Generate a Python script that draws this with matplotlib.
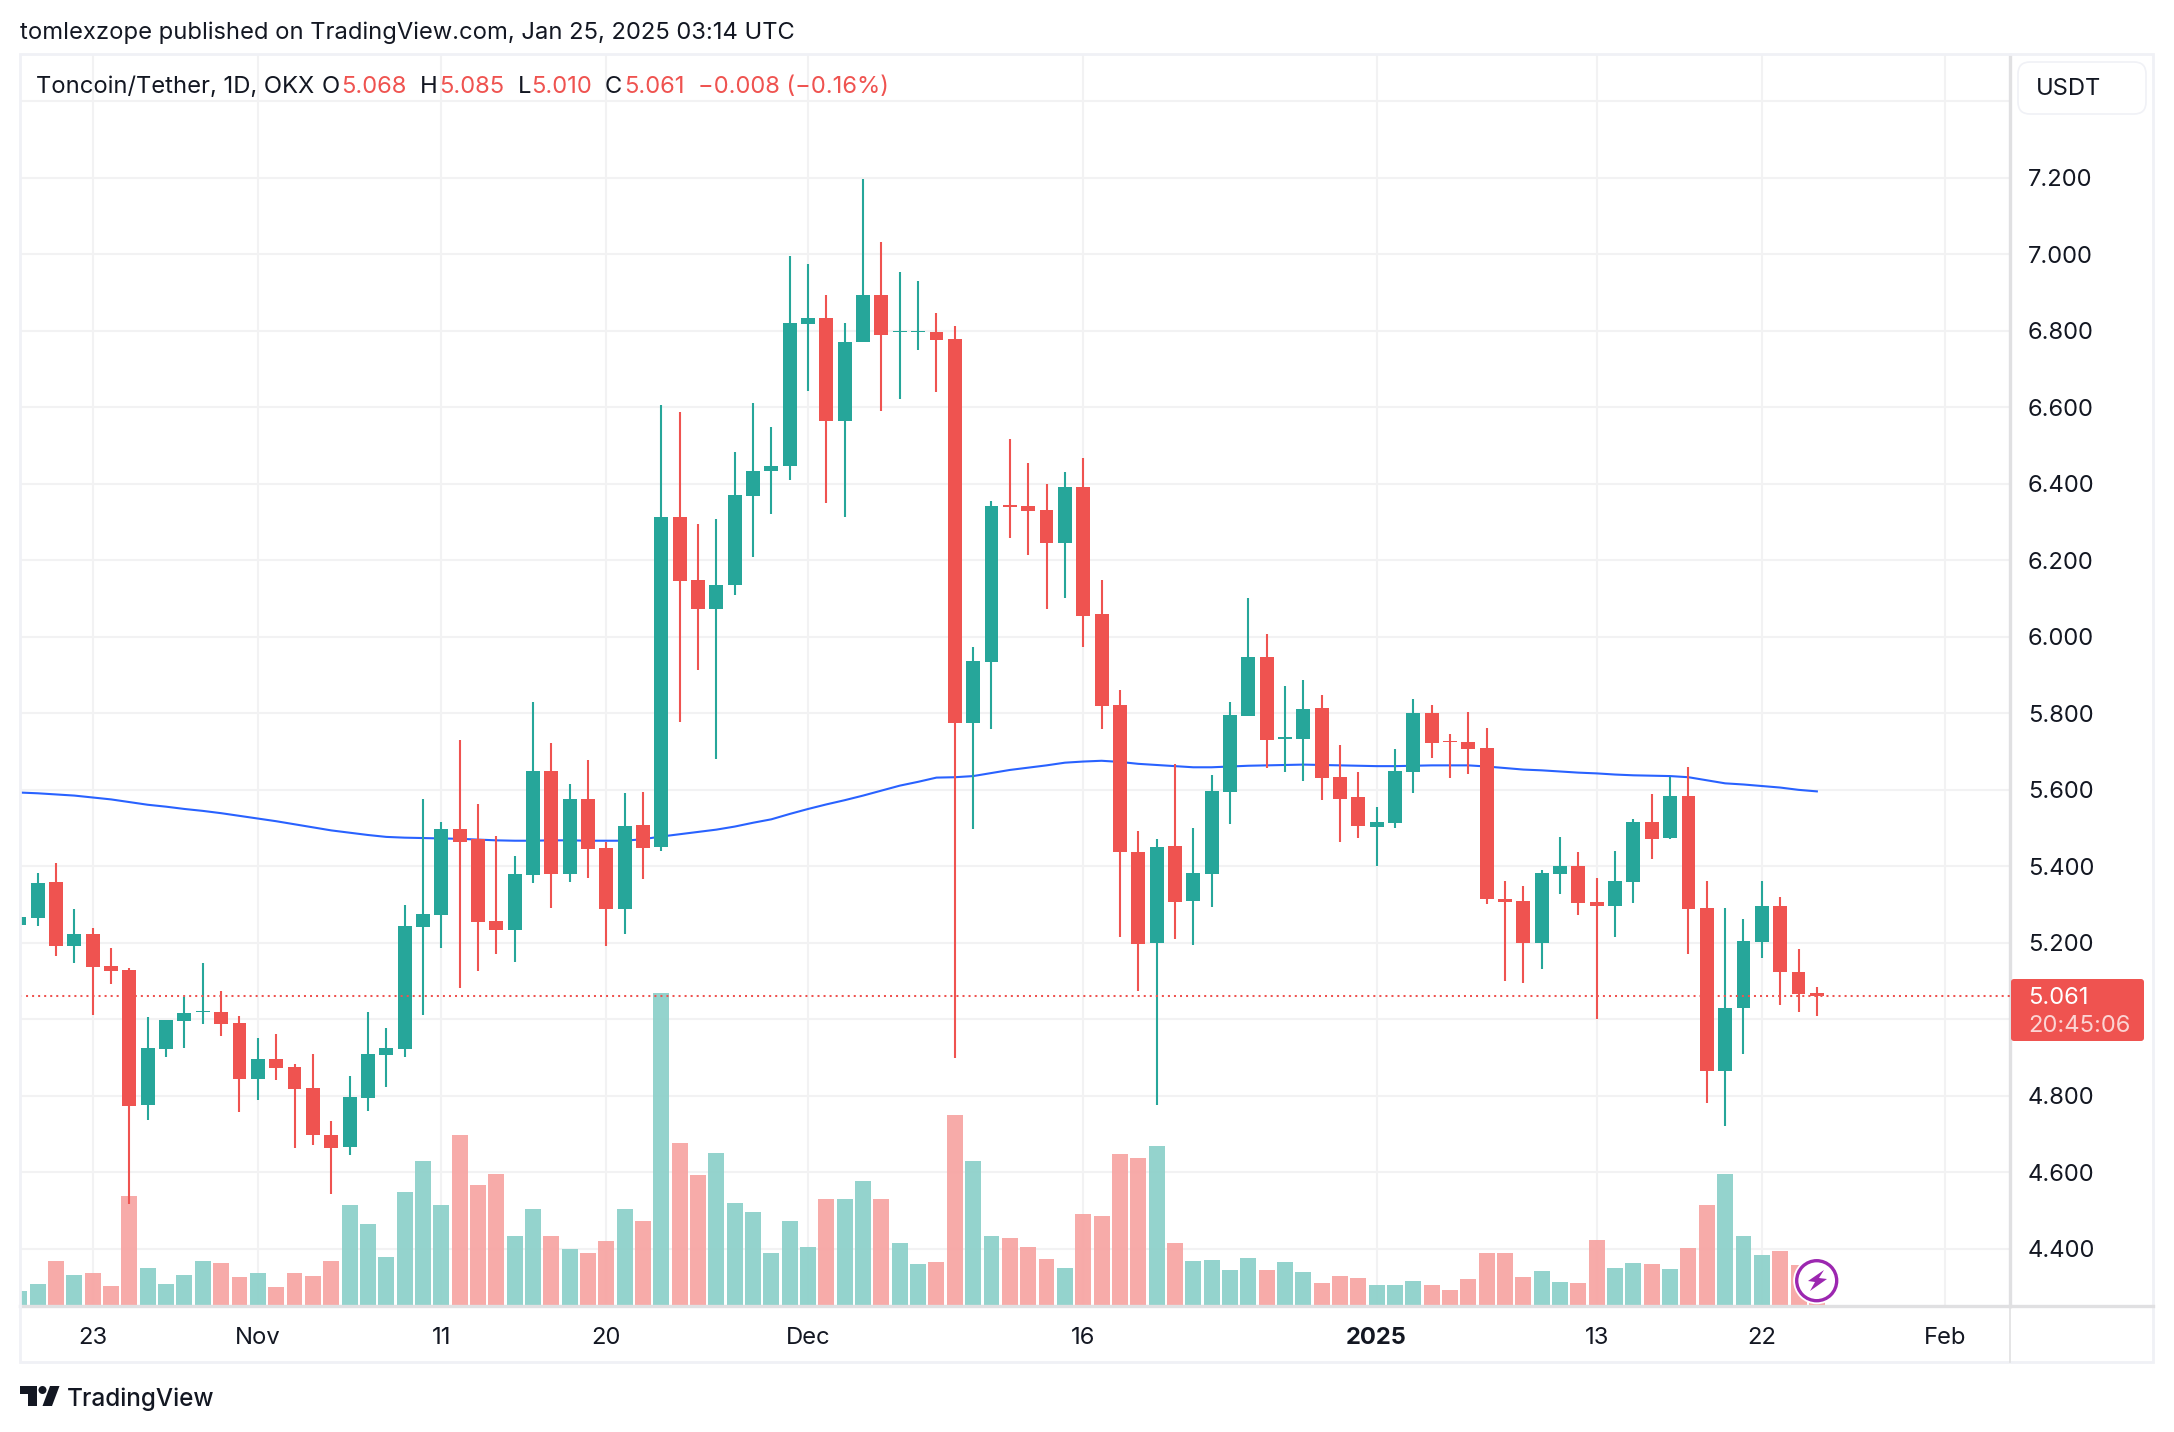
import numpy as np
import matplotlib
matplotlib.use("Agg")
import matplotlib.pyplot as plt
from matplotlib.patches import Rectangle, FancyBboxPatch, Circle, Polygon

plt.rcParams['font.family'] = ['Inter', 'DejaVu Sans']

# daily bars, Oct 19 2024 .. Jan 25 2025
opens = [5.247, 5.265, 5.359, 5.192, 5.223, 5.139, 5.129, 4.776, 4.923, 4.996,
         5.018, 5.019, 4.991, 4.844, 4.897, 4.875, 4.821, 4.698, 4.666, 4.795,
         4.907, 4.923, 5.241, 5.273, 5.498, 5.471, 5.257, 5.234, 5.378, 5.649,
         5.380, 5.576, 5.448, 5.289, 5.508, 5.450, 6.313, 6.149, 6.073, 6.136,
         6.368, 6.434, 6.447, 6.818, 6.834, 6.564, 6.771, 6.894, 6.796, 6.796,
         6.797, 6.779, 5.776, 5.934, 6.345, 6.342, 6.332, 6.246, 6.392, 6.060,
         5.822, 5.437, 5.200, 5.453, 5.309, 5.380, 5.594, 5.793, 5.947, 5.734,
         5.733, 5.814, 5.633, 5.581, 5.503, 5.514, 5.646, 5.801, 5.728, 5.725,
         5.710, 5.315, 5.309, 5.200, 5.380, 5.401, 5.306, 5.296, 5.359, 5.516,
         5.475, 5.584, 5.292, 4.865, 5.029, 5.202, 5.297, 5.124, 5.068]
highs = [5.267, 5.383, 5.409, 5.289, 5.239, 5.187, 5.135, 5.006, 4.998, 5.058,
         5.148, 5.074, 5.009, 4.952, 4.962, 4.883, 4.910, 4.734, 4.852, 5.019,
         4.978, 5.299, 5.576, 5.516, 5.730, 5.563, 5.479, 5.427, 5.829, 5.723,
         5.616, 5.678, 5.464, 5.592, 5.594, 6.606, 6.588, 6.295, 6.308, 6.483,
         6.612, 6.548, 6.996, 6.975, 6.894, 6.821, 7.197, 7.032, 6.954, 6.930,
         6.847, 6.813, 5.973, 6.355, 6.518, 6.455, 6.400, 6.431, 6.468, 6.149,
         5.861, 5.492, 5.472, 5.667, 5.501, 5.639, 5.829, 6.102, 6.008, 5.871,
         5.887, 5.848, 5.717, 5.646, 5.555, 5.707, 5.838, 5.822, 5.746, 5.803,
         5.762, 5.362, 5.349, 5.391, 5.476, 5.437, 5.370, 5.440, 5.524, 5.589,
         5.633, 5.659, 5.362, 5.291, 5.263, 5.362, 5.320, 5.184, 5.085]
lows = [5.247, 5.245, 5.166, 5.148, 5.011, 5.093, 4.518, 4.737, 4.901, 4.926,
        4.988, 4.956, 4.758, 4.789, 4.842, 4.664, 4.672, 4.544, 4.645, 4.760,
        4.823, 4.901, 5.011, 5.187, 5.082, 5.126, 5.171, 5.150, 5.357, 5.292,
        5.359, 5.370, 5.192, 5.223, 5.367, 5.440, 5.777, 5.913, 5.680, 6.110,
        6.209, 6.322, 6.410, 6.643, 6.350, 6.313, 6.771, 6.590, 6.622, 6.750,
        6.640, 4.899, 5.498, 5.760, 6.259, 6.214, 6.073, 6.102, 5.973, 5.759,
        5.215, 5.074, 4.776, 5.210, 5.194, 5.293, 5.511, 5.793, 5.658, 5.646,
        5.623, 5.574, 5.463, 5.475, 5.401, 5.501, 5.592, 5.684, 5.631, 5.642,
        5.302, 5.100, 5.096, 5.132, 5.328, 5.273, 5.001, 5.215, 5.305, 5.420,
        5.472, 5.171, 4.782, 4.722, 4.910, 5.161, 5.037, 5.019, 5.010]
closes = [5.267, 5.357, 5.192, 5.223, 5.137, 5.126, 4.773, 4.926, 4.998, 5.017,
          5.022, 4.988, 4.844, 4.897, 4.873, 4.818, 4.698, 4.664, 4.797, 4.910,
          4.926, 5.244, 5.276, 5.498, 5.463, 5.254, 5.234, 5.380, 5.649, 5.380,
          5.576, 5.446, 5.289, 5.505, 5.448, 6.313, 6.146, 6.073, 6.136, 6.371,
          6.434, 6.447, 6.821, 6.834, 6.564, 6.771, 6.894, 6.789, 6.799, 6.799,
          6.776, 5.776, 5.937, 6.342, 6.339, 6.329, 6.246, 6.392, 6.055, 5.820,
          5.437, 5.197, 5.450, 5.306, 5.383, 5.597, 5.796, 5.947, 5.730, 5.738,
          5.812, 5.631, 5.576, 5.505, 5.516, 5.649, 5.801, 5.723, 5.724, 5.707,
          5.315, 5.306, 5.200, 5.383, 5.401, 5.305, 5.296, 5.362, 5.516, 5.472,
          5.584, 5.289, 4.865, 5.029, 5.205, 5.297, 5.124, 5.066, 5.061]
# no scale on the chart for volume, so relative units
volumes = [14, 21, 44, 30, 32, 19, 109, 37, 21, 30, 44, 42, 28, 32, 18, 32, 29, 44,
           100, 81, 48, 113, 144, 100, 170, 120, 131, 69, 96, 69, 56, 52, 64, 96, 84,
           312, 162, 130, 152, 102, 93, 52, 84, 58, 106, 106, 124, 106, 62, 41, 43,
           190, 144, 69, 67, 58, 46, 37, 91, 89, 151, 147, 159, 62, 44, 45, 35, 47,
           35, 43, 33, 22, 29, 27, 20, 20, 24, 20, 15, 26, 52, 52, 28, 34, 23, 22,
           65, 37, 42, 41, 36, 57, 100, 131, 69, 50, 54, 40, 3]
ma_line = [5.593, 5.591, 5.588, 5.585, 5.580, 5.575, 5.568, 5.561, 5.556, 5.550,
           5.545, 5.539, 5.532, 5.525, 5.518, 5.510, 5.502, 5.494, 5.488, 5.482,
           5.477, 5.475, 5.474, 5.473, 5.472, 5.470, 5.468, 5.467, 5.467, 5.468,
           5.468, 5.467, 5.467, 5.467, 5.471, 5.478, 5.484, 5.490, 5.496, 5.504,
           5.514, 5.523, 5.537, 5.550, 5.562, 5.573, 5.585, 5.598, 5.611, 5.621,
           5.632, 5.633, 5.636, 5.644, 5.652, 5.658, 5.664, 5.671, 5.674, 5.676,
           5.673, 5.668, 5.665, 5.662, 5.659, 5.659, 5.661, 5.663, 5.664, 5.665,
           5.666, 5.665, 5.664, 5.663, 5.662, 5.662, 5.663, 5.664, 5.664, 5.664,
           5.661, 5.657, 5.653, 5.651, 5.648, 5.645, 5.643, 5.640, 5.638, 5.637,
           5.636, 5.633, 5.625, 5.617, 5.614, 5.610, 5.606, 5.600, 5.596]

last_price = 5.061
price_ticks = [4.4, 4.6, 4.8, 5.0, 5.2, 5.4, 5.6, 5.8, 6.0, 6.2, 6.4, 6.6, 6.8, 7.0, 7.2, 7.4]
price_labels = ["4.400", "4.600", "4.800", "", "5.200", "5.400", "5.600", "5.800", "6.000",
                "6.200", "6.400", "6.600", "6.800", "7.000", "7.200", ""]
date_ticks = [4, 13, 23, 32, 43, 58, 74, 86, 95, 105]
date_labels = ["23", "Nov", "11", "20", "Dec", "16", "2025", "13", "22", "Feb"]

UP = "#26A69A"
DOWN = "#EF5350"
UP_VOL = "#92D2CC"
DOWN_VOL = "#F7A9A7"
GRID = "#F2F2F3"
AXIS = "#E0E0E2"
FRAME = "#F0F1F6"
INK = "#131722"
W, H = 2174, 1432
TXT = 17.1

fig = plt.figure(figsize=(W / 100, H / 100), dpi=100, facecolor="white")
rect = [20 / W, 1 - 1306 / H, 1990 / W, 1251 / H]
xlim = (0.033, 108.53)
ylim = (4.2507, 7.521)

opens = np.array(opens)
closes = np.array(closes)
x = np.arange(len(opens))
up = closes >= opens

# grid goes under the volume bars, those are see through
ax_grid = fig.add_axes(rect, zorder=1)
ax_grid.set_xlim(xlim)
ax_grid.set_ylim(ylim)
ax_grid.set_xticks(date_ticks)
ax_grid.set_yticks(price_ticks)
ax_grid.grid(True, color=GRID, lw=1.5)
ax_grid.tick_params(length=0, labelbottom=False, labelleft=False)
for s in ax_grid.spines.values():
    s.set_visible(False)

ax_vol = fig.add_axes(rect, zorder=2)
ax_vol.patch.set_visible(False)
ax_vol.set_xlim(xlim)
ax_vol.set_ylim(-1, 1250)
ax_vol.bar(x, volumes, width=0.87, color=[UP_VOL if u else DOWN_VOL for u in up], alpha=0.98)
ax_vol.axis("off")

ax = fig.add_axes(rect, zorder=3)
ax.patch.set_visible(False)
ax.set_xlim(xlim)
ax.set_ylim(ylim)
colors = [UP if u else DOWN for u in up]
ax.plot(x, ma_line, color="#2962FF", lw=1.5, zorder=1)
ax.vlines(x, lows, highs, colors=colors, lw=1.5, zorder=2)
ax.bar(x, closes - opens, bottom=opens, width=0.76, color=colors, zorder=3)
ax.axhline(last_price, color=DOWN, lw=1.45, ls=(0, (1, 2)), zorder=4)

ax.yaxis.tick_right()
ax.set_yticks(price_ticks)
ax.set_yticklabels(price_labels, fontsize=TXT, color=INK)
ax.set_xticks(date_ticks)
ax.set_xticklabels(date_labels, fontsize=TXT, color=INK)
ax.get_xticklabels()[6].set_fontweight("bold")
ax.tick_params(axis="y", length=0, pad=13)
ax.tick_params(axis="x", length=0, pad=15)
for s in ["top", "left"]:
    ax.spines[s].set_visible(False)
for s in ["bottom", "right"]:
    ax.spines[s].set_color(AXIS)
    ax.spines[s].set_linewidth(2.4)

# overlay in pixels for header, price tag, logo and the rest of the widget chrome
ov = fig.add_axes([0, 0, 1, 1], zorder=4)
ov.patch.set_visible(False)
ov.set_xlim(0, W)
ov.set_ylim(H, 0)
ov.axis("off")

ov.add_patch(Rectangle((20, 54), 2133, 1308, fill=False, ec=FRAME, lw=2))
ov.plot([2010, 2010], [1306, 1362], color=AXIS, lw=1.2)
ov.plot([2010, 2153], [1306, 1306], color=AXIS, lw=2.4)

ov.text(20, 33, "tomlexzope published on TradingView.com, Jan 25, 2025 03:14 UTC",
        fontsize=TXT, color=INK, va="center")

row = 87
ov.text(36, row, "Toncoin/Tether, 1D, OKX", fontsize=TXT, color=INK, va="center")
for xp, s, c in [(322, "O", INK), (341, "5.068", DOWN), (420, "H", INK), (439, "5.085", DOWN),
                 (518, "L", INK), (531, "5.010", DOWN), (605, "C", INK), (624, "5.061", DOWN),
                 (698, "\u22120.008 (\u22120.16%)", DOWN)]:
    ov.text(xp, row, s, fontsize=TXT, color=c, va="center")

ov.add_patch(FancyBboxPatch((2018, 62), 128, 52, boxstyle="round,pad=0,rounding_size=12",
                            fc="white", ec=FRAME, lw=1.2))
ov.text(2036, 89, "USDT", fontsize=TXT, color=INK, va="center")

ov.add_patch(FancyBboxPatch((2011, 979), 133, 62, boxstyle="round,pad=0,rounding_size=3",
                            fc=DOWN, ec="none"))
ov.text(2028, 998, "5.061", fontsize=TXT, color="white", va="center")
ov.text(2028, 1026, "20:45:06", fontsize=TXT, color="#FBD4D3", va="center")

# lightning mark on the last bar
ov.add_patch(Circle((1816.7, 1280.7), 23.5, fc="white", ec="none"))
ov.add_patch(Circle((1816.7, 1280.7), 20, fc="white", ec="#9C27B0", lw=2.4))
ov.add_patch(Polygon([(1824, 1270), (1808, 1281), (1815, 1282), (1810, 1291),
                      (1827, 1279), (1819, 1278)], closed=True, fc="#9C27B0", ec="none"))

# TradingView logo
ov.add_patch(Polygon([(20, 1386), (37, 1386), (37, 1406), (28, 1406), (28, 1394), (20, 1394)],
                     closed=True, fc=INK, ec="none"))
ov.add_patch(Circle((42.5, 1390), 4, fc=INK, ec="none"))
ov.add_patch(Polygon([(50, 1386), (59.5, 1386), (52, 1406), (42.5, 1406)], closed=True, fc=INK, ec="none"))
ov.text(67, 1399, "TradingView", fontsize=TXT + 0.4, color=INK, va="center", fontweight="medium")

fig.savefig("out.png", dpi=100, facecolor="white")
